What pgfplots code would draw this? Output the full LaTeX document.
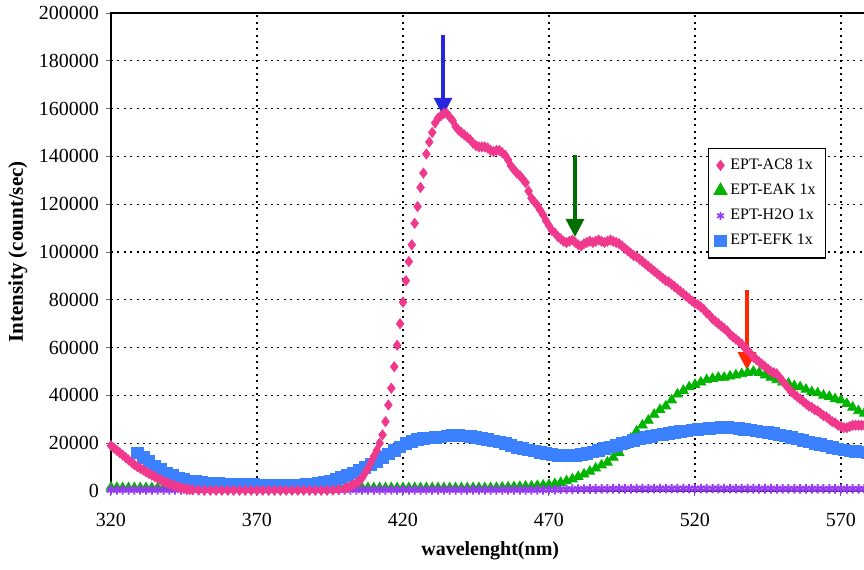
\documentclass[border=0pt]{standalone}
\usepackage{pgfplots}
\pgfplotsset{compat=1.18}
\usepackage{fontspec}
\setmainfont{Liberation Serif}
\usetikzlibrary{arrows.meta}
\definecolor{cpink}{RGB}{240,56,140}
\definecolor{cgreen}{RGB}{0,180,0}
\definecolor{cpurple}{RGB}{150,60,240}
\definecolor{cblue}{RGB}{58,128,255}
\definecolor{abl}{RGB}{38,38,220}
\definecolor{agr}{RGB}{0,110,0}
\definecolor{ard}{RGB}{255,40,0}
\begin{document}
\begin{tikzpicture}
\begin{axis}[name=ax, scale only axis, width=394.2pt, height=239pt,
  xmin=320, xmax=590, ymin=0, ymax=200000,
  xtick={320,370,420,470,520,570}, ytick={0,20000,40000,60000,80000,100000,120000,140000,160000,180000,200000},
  scaled y ticks=false, scaled x ticks=false,
  /pgf/number format/assume math mode=true,
  yticklabel style={/pgf/number format/fixed, /pgf/number format/1000 sep={}},
  xticklabel style={/pgf/number format/1000 sep={}, yshift=-5pt},
  tick label style={font=\fontsize{10}{12}\selectfont},
  grid=major, major grid style={black, line width=0.6pt, dash pattern=on 1pt off 2.2pt},
  axis line style={line width=1pt},
  tick align=outside, major tick length=2.5pt, xtick pos=bottom, ytick pos=left,
  tick style={black!60, line width=0.5pt},
  every axis x label/.style={at={(axis description cs:0.481,-0.1255)}, anchor=center, font=\fontsize{10}{12}\selectfont\bfseries},
  every axis y label/.style={at={(axis description cs:-0.118,0.5)}, anchor=center, rotate=90, font=\fontsize{10.5}{12}\selectfont\bfseries},
  xlabel={wavelenght(nm)}, ylabel={Intensity (count/sec)},
  legend style={at={(0.757,0.718)}, anchor=north west, draw=black, line width=0.8pt, fill=white, font=\fontsize{8}{9.5}\selectfont, row sep=1.8pt, inner sep=3pt},
  legend cell align=left,
  legend image code/.code={\draw[#1] plot coordinates {(0.12cm,0cm)};},
]
\addlegendimage{only marks, mark=diamond*, mark size=2.2pt, color=cpink}
\addlegendentry{EPT-AC8 1x}
\addlegendimage{only marks, mark=triangle*, mark size=3.4pt, color=cgreen}
\addlegendentry{EPT-EAK 1x}
\addlegendimage{only marks, mark=asterisk, mark size=2pt, color=cpurple, line width=0.8pt}
\addlegendentry{EPT-H2O 1x}
\addlegendimage{only marks, mark=square*, mark size=2.8pt, color=cblue}
\addlegendentry{EPT-EFK 1x}

% EPT-EAK
\addplot[forget plot, only marks, mark=triangle*, mark size=2.8pt, color=cgreen] coordinates {
(320,1500)(322,1400)(324,1300)(326,1300)(328,1300)(330,1300)(332,1300)(334,1300)(336,1300)(338,1300)(340,1300)
(342,1300)(344,1300)(346,1300)(348,1300)(350,1300)(352,1300)(354,1300)(356,1300)(358,1300)(360,1300)
(362,1300)(364,1300)(366,1300)(368,1300)(370,1300)(372,1300)(374,1300)(376,1300)(378,1300)(380,1300)
(382,1300)(384,1300)(386,1300)(388,1300)(390,1300)(392,1300)(394,1300)(396,1300)(398,1300)(400,1300)
(402,1300)(404,1300)(406,1300)(408,1300)(410,1300)(412,1300)(414,1300)(416,1300)(418,1300)(420,1300)
(422,1300)(424,1300)(426,1300)(428,1300)(430,1300)(432,1300)(434,1300)(436,1300)(438,1300)(440,1300)
(442,1300)(444,1300)(446,1300)(448,1300)(450,1300)(452,1400)(454,1500)(456,1600)(458,1700)(460,1800)
(462,1900)(464,2000)(466,2200)(468,2400)(470,2600)(472,3000)(474,3500)(476,4200)(478,5000)(480,6000)
(482,7000)(484,8200)(486,9500)(488,10800)(490,12000)(492,14000)(494,16000)(496,19000)(498,22000)(500,25000)
(502,27500)(504,29500)(506,32000)(508,34000)(510,35500)(512,38000)(514,40500)(516,42000)(518,43500)(520,44500)
(522,45500)(524,46500)(526,47000)(528,47500)(530,47500)(532,48000)(534,48500)(536,49000)(538,49500)(540,50000)
(542,49500)(544,48500)(546,47500)(548,46500)(550,45500)(552,45000)(554,44000)(556,43500)(558,42500)(560,41500)
(562,41000)(564,40000)(566,39500)(568,38500)(570,38000)(572,36500)(574,35000)(576,33500)(578,32500)(580,31500)
};
% EPT-H2O
\addplot[forget plot, only marks, mark=asterisk, mark size=2.4pt, line width=1pt, color=cpurple] coordinates {
(320,500)(322,500)(324,500)(326,500)(328,500)(330,500)(332,500)(334,500)(336,500)(338,500)(340,500)
(342,500)(344,500)(346,500)(348,500)(350,500)(352,500)(354,500)(356,500)(358,500)(360,500)
(362,500)(364,500)(366,500)(368,500)(370,500)(372,500)(374,500)(376,500)(378,500)(380,500)
(382,500)(384,500)(386,500)(388,500)(390,500)(392,500)(394,500)(396,500)(398,500)(400,500)
(402,500)(404,500)(406,500)(408,500)(410,500)(412,500)(414,500)(416,500)(418,500)(420,500)
(422,500)(424,500)(426,500)(428,500)(430,500)(432,500)(434,500)(436,500)(438,500)(440,500)
(442,500)(444,500)(446,500)(448,500)(450,500)(452,500)(454,500)(456,500)(458,500)(460,500)
(462,500)(464,500)(466,500)(468,500)(470,550)(472,600)(474,650)(476,700)(478,750)(480,800)
(482,800)(484,850)(486,850)(488,900)(490,900)(492,900)(494,950)(496,950)(498,950)(500,1000)
(502,1000)(504,1000)(506,1000)(508,1000)(510,1000)(512,1000)(514,1000)(516,1000)(518,1000)(520,1000)
(522,1000)(524,1000)(526,1000)(528,1000)(530,1000)(532,1000)(534,1000)(536,1000)(538,1000)(540,950)
(542,950)(544,950)(546,950)(548,900)(550,900)(552,900)(554,900)(556,900)(558,900)(560,900)
(562,900)(564,900)(566,900)(568,900)(570,900)(572,900)(574,900)(576,900)(578,900)(580,900)
};
% EPT-EFK
\addplot[forget plot, only marks, mark=square*, mark size=2.9pt, color=cblue] coordinates {
(329,16000)(331,14000)(333,12500)(335,10500)(337,9000)(339,7500)(341,6500)(343,5500)(345,4800)(347,4300)
(349,3900)(351,3600)(353,3400)(355,3200)(357,3100)(359,3000)(361,2900)(363,2800)(365,2800)(367,2700)
(369,2700)(371,2600)(373,2600)(375,2600)(377,2500)(379,2500)(381,2500)(383,2500)(385,2600)(387,2700)
(389,2900)(391,3200)(393,3600)(395,4100)(397,4800)(399,5600)(401,6500)(403,7500)(405,8700)(407,10000)
(409,11200)(411,12500)(413,14000)(415,15500)(417,17000)(419,18500)(421,19800)(423,20800)(425,21500)(427,22000)
(429,22300)(431,22500)(433,22700)(435,23000)(437,23200)(439,23300)(441,23000)(443,22800)(445,22500)(447,22000)
(449,21500)(451,21000)(453,20500)(455,19800)(457,19000)(459,18300)(461,17800)(463,17200)(465,16700)(467,16200)
(469,15800)(471,15400)(473,15000)(475,14800)(477,14800)(479,15000)(481,15300)(483,15800)(485,16400)(487,17000)
(489,17700)(491,18400)(493,19100)(495,19800)(497,20500)(499,21200)(501,21800)(503,22400)(505,22900)(507,23400)
(509,23800)(511,24200)(513,24600)(515,24900)(517,25200)(519,25500)(521,25700)(523,26000)(525,26200)(527,26400)
(529,26500)(531,26500)(533,26400)(535,26200)(537,25900)(539,25600)(541,25200)(543,24800)(545,24400)(547,24000)
(549,23500)(551,23000)(553,22400)(555,21800)(557,21200)(559,20600)(561,20000)(563,19400)(565,18800)(567,18200)
(569,17600)(571,17200)(573,16800)(575,16500)(577,16300)(579,16200)
};
% EPT-AC8
\addplot[forget plot, only marks, mark=diamond*, mark size=2.5pt, color=cpink] coordinates {
(320,19000)(321,18000)(322,17000)(323,16000)(324,15000)(325,14000)(326,13000)(327,12000)(328,11000)(329,10200)
(330,9500)(331,8800)(332,8000)(333,7300)(334,6600)(335,6000)(336,5300)(337,4700)(338,4100)(339,3500)
(340,3000)(341,2500)(342,2100)(343,1700)(344,1300)(345,1000)(346,800)(347,600)(348,500)(350,400)
(352,300)(354,300)(356,300)(358,300)(360,300)(362,300)(364,300)(366,300)(368,300)(370,300)
(372,300)(374,300)(376,300)(378,300)(380,300)(382,300)(384,300)(386,300)(388,300)(390,300)
(392,300)(394,300)(396,400)(398,600)(400,1000)(401,1500)(402,2000)(403,2600)(404,3300)(405,4200)
(406,5500)(407,7500)(408,9500)(409,12000)(410,14500)(411,17000)(412,20000)(413,23500)(414,29000)(415,36000)
(416,43000)(417,52000)(418,61000)(419,70000)(420,79000)(421,88000)(422,96000)(423,103000)(424,112000)(425,119000)
(426,127000)(427,133000)(428,141000)(429,146000)(430,150000)(431,154000)(432,156000)(433,157000)(434,158000)(435,158000)
(436,156500)(437,155000)(438,152500)(439,151000)(440,150000)(441,149000)(442,148000)(443,147000)(444,145500)(445,144500)
(446,144000)(447,144000)(448,144000)(449,143500)(450,142500)(451,142000)(452,142500)(453,142500)(454,141500)(455,140500)
(456,138500)(457,136000)(458,134500)(459,133000)(460,132000)(461,130500)(462,129000)(463,125500)(464,122500)(465,121000)
(466,119500)(467,117500)(468,115500)(469,113000)(470,111000)(471,109000)(472,108000)(473,106500)(474,105500)(475,104500)
(476,104000)(477,104500)(478,105000)(479,104000)(480,103000)(481,102500)(482,103500)(483,104000)(484,104500)(485,104000)
(486,104500)(487,105000)(488,104500)(489,104000)(490,104500)(491,105000)(492,104500)(493,104000)(494,103500)(495,102500)
(496,101500)(497,100500)(498,99500)(499,98500)(500,98000)(501,97000)(502,96000)(503,95000)(504,94000)(505,93000)
(506,92000)(507,91000)(508,90000)(509,89000)(510,88000)(511,87500)(512,86500)(513,85500)(514,84500)(515,83500)
(516,82500)(517,81500)(518,80500)(519,79500)(520,78500)(521,78000)(522,77000)(523,76000)(524,74500)(525,73500)
(526,72000)(527,71000)(528,70000)(529,69000)(530,68000)(531,67000)(532,65500)(533,64500)(534,63500)(535,62500)
(536,61500)(537,60000)(538,59000)(539,57500)(540,56000)(541,55000)(542,54000)(543,53000)(544,52000)(545,51000)
(546,50000)(547,49500)(548,49000)(549,47500)(550,46000)(551,44500)(552,43000)(553,41500)(554,40500)(555,39500)
(556,38500)(557,37500)(558,36500)(559,35500)(560,35000)(561,34000)(562,33500)(563,32500)(564,31500)(565,31000)
(566,30000)(567,29000)(568,28500)(569,27500)(570,27000)(571,26500)(572,26500)(573,27000)(574,27500)(575,27500)
(576,27500)(577,27500)(578,27500)(579,27500)
};
\draw[abl, line width=1.6pt, -{Triangle[width=9pt,length=9pt]}] (axis cs:433.7,191000) -- (axis cs:433.7,157000);
\draw[agr, line width=1.6pt, -{Triangle[width=9pt,length=9pt]}] (axis cs:478.9,140600) -- (axis cs:478.9,106300);
\draw[ard, line width=1.6pt, -{Triangle[width=9pt,length=9pt]}] (axis cs:537.8,84000) -- (axis cs:537.8,50600);
\end{axis}
\pgfresetboundingbox
\path[use as bounding box] ([xshift=-55.5pt,yshift=-39pt]ax.south west) rectangle ([xshift=376.5pt,yshift=6.5pt]ax.north west);
\end{tikzpicture}
\end{document}
